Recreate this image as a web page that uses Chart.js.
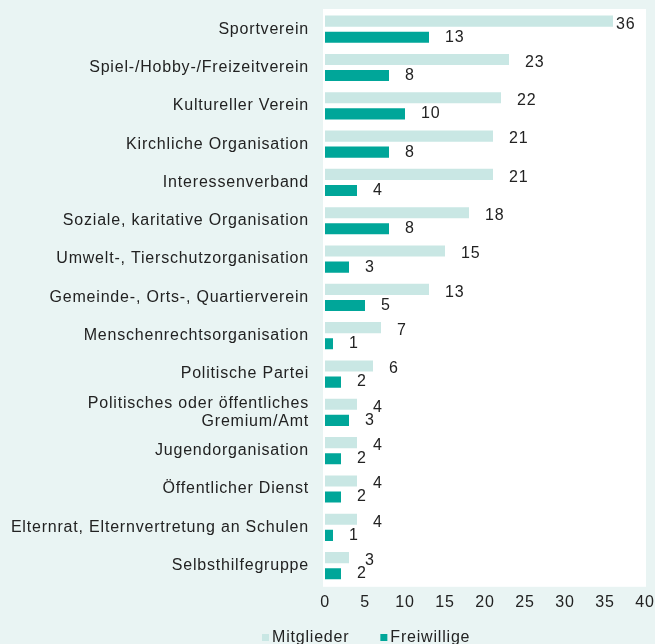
<!DOCTYPE html>
<html>
<head>
<meta charset="utf-8">
<script src="https://cdn.jsdelivr.net/npm/chart.js@4.4.0/dist/chart.umd.min.js"></script>
<style>
  html, body { margin: 0; padding: 0; background: #e9f4f3; overflow: hidden; }
  #wrap { width: 655px; height: 644px; }
</style>
</head>
<body>
<div id="wrap"><canvas id="engagementChart"></canvas></div>
<script>
// categories (top to bottom)
const kategorien = [
  "Sportverein",
  "Spiel-/Hobby-/Freizeitverein",
  "Kultureller Verein",
  "Kirchliche Organisation",
  "Interessenverband",
  "Soziale, karitative Organisation",
  "Umwelt-, Tierschutzorganisation",
  "Gemeinde-, Orts-, Quartierverein",
  "Menschenrechtsorganisation",
  "Politische Partei",
  ["Politisches oder öffentliches", "Gremium/Amt"],
  "Jugendorganisation",
  "Öffentlicher Dienst",
  "Elternrat, Elternvertretung an Schulen",
  "Selbsthilfegruppe"
];

const mitglieder = [36, 23, 22, 21, 21, 18, 15, 13, 7, 6, 4, 4, 4, 4, 3];
const freiwillige = [13, 8, 10, 8, 4, 8, 3, 5, 1, 2, 3, 2, 2, 1, 2];

const xTicks = [0, 5, 10, 15, 20, 25, 30, 35, 40];

const schrift = "'Liberation Sans', Arial, sans-serif";
const ctx = document.getElementById("engagementChart").getContext("2d");

// the original uses a slightly tracked font
const tracking = {
  id: "tracking",
  beforeLayout(chart) { chart.ctx.letterSpacing = "0.8px"; },
  beforeDraw(chart) { chart.ctx.letterSpacing = "0.8px"; }
};

// white plot background
const plotBg = {
  id: "plotBg",
  beforeDraw(chart) {
    const a = chart.chartArea;
    const c = chart.ctx;
    c.save();
    c.fillStyle = "#ffffff";
    c.fillRect(a.left - 2, a.top - 1, a.right - a.left + 3, a.bottom - a.top + 3);
    c.restore();
  }
};

// value labels after each bar
const barLabels = {
  id: "barLabels",
  afterDatasetsDraw(chart) {
    const c = chart.ctx;
    c.save();
    c.font = "16px " + schrift;
    c.fillStyle = "#222";
    c.textBaseline = "middle";
    chart.data.datasets.forEach((ds, i) => {
      const dy = i === 0 ? 3 : 0;
      chart.getDatasetMeta(i).data.forEach((bar, j) => {
        const txt = String(ds.data[j]);
        const w = c.measureText(txt).width;
        let x = bar.x + 16;
        if (x + w > chart.chartArea.right) x = bar.x + 3;
        c.fillText(txt, x, bar.y + dy);
      });
    });
    c.restore();
  }
};

// legend below the axis, as in the original layout
const legendeUnten = {
  id: "legendeUnten",
  afterDraw(chart) {
    const c = chart.ctx;
    const a = chart.chartArea;
    c.save();
    c.font = "16px " + schrift;
    c.textBaseline = "middle";
    const y = chart.height - 6;
    let x = a.left - 63;
    chart.data.datasets.forEach((ds) => {
      c.fillStyle = ds.backgroundColor;
      c.fillRect(x, y - 4, 7, 7);
      c.fillStyle = "#222";
      c.fillText(ds.label, x + 10, y);
      x += 10 + c.measureText(ds.label).width + 31;
    });
    c.restore();
  }
};

new Chart(ctx, {
  type: "bar",
  data: {
    labels: kategorien,
    datasets: [
      {
        label: "Mitglieder",
        data: mitglieder,
        backgroundColor: "#c9e7e4",
        categoryPercentage: 0.84,
        barPercentage: 0.69
      },
      {
        label: "Freiwillige",
        data: freiwillige,
        backgroundColor: "#00a699",
        categoryPercentage: 0.84,
        barPercentage: 0.69
      }
    ]
  },
  options: {
    indexAxis: "y",
    responsive: true,
    maintainAspectRatio: false,
    animation: false,
    layout: { padding: { top: 10, left: 0, right: 0, bottom: 24 } },
    plugins: {
      legend: { display: false },
      tooltip: { enabled: false }
    },
    scales: {
      x: {
        min: 0,
        max: 40,
        afterBuildTicks(axis) {
          axis.ticks = xTicks.map((v) => ({ value: v }));
        },
        afterFit(axis) {
          axis.paddingLeft = 0;
          axis.paddingRight = 10;
        },
        grid: { display: false, drawTicks: false },
        border: { display: false },
        ticks: {
          color: "#222",
          padding: 8,
          font: { size: 16, family: schrift }
        }
      },
      y: {
        grid: { display: false, drawTicks: false },
        border: { display: false },
        afterFit(axis) {
          axis.width = 325;
          axis.paddingTop = 0;
          axis.paddingBottom = 0;
        },
        ticks: {
          color: "#222",
          padding: 16,
          autoSkip: false,
          font: { size: 16, family: schrift, lineHeight: 1.1 }
        }
      }
    }
  },
  plugins: [tracking, plotBg, barLabels, legendeUnten]
});
</script>
</body>
</html>
